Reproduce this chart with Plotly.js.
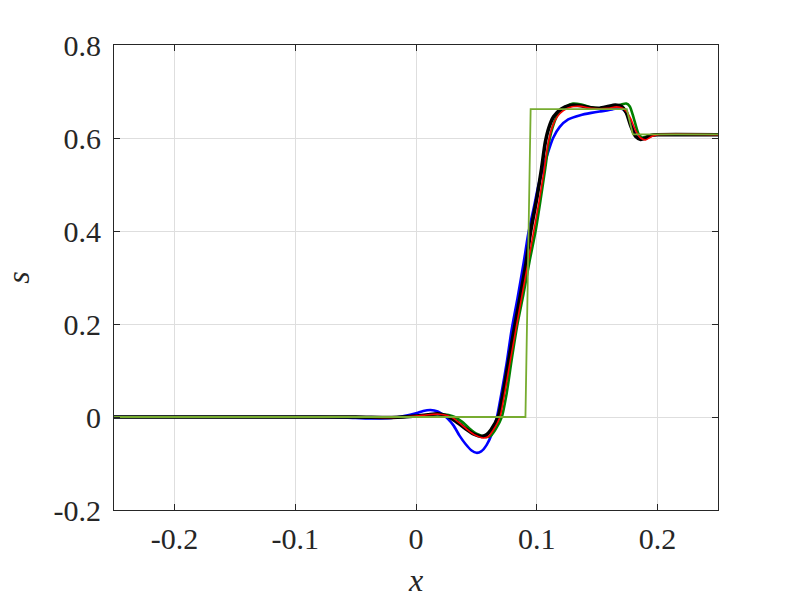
<!DOCTYPE html>
<html>
<head>
<meta charset="utf-8">
<script src="https://cdn.plot.ly/plotly-3.0.1.min.js"></script>
<style>
html,body{margin:0;padding:0;background:#fff;}
#chart{width:793px;height:609px;}
</style>
</head>
<body>
<div id="chart"></div>
<script>
// Exact step solution (light green)
const xExact = [-0.25, 0.0906, 0.0949, 0.1745, 0.1795, 0.25];
const sExact = [0, 0, 0.662, 0.662, 0.608, 0.608];

// Blue solution
const xBlue = [-0.25, -0.08, -0.05, -0.035, -0.02, -0.01, 0.0, 0.006, 0.012, 0.018, 0.022, 0.026, 0.031, 0.036, 0.041, 0.046, 0.050, 0.054, 0.0585, 0.063, 0.067, 0.071, 0.075, 0.079, 0.084, 0.089, 0.093, 0.0975, 0.1015, 0.107, 0.1135, 0.119, 0.126, 0.136, 0.145, 0.152, 0.158, 0.163, 0.168, 0.172, 0.175, 0.178, 0.182, 0.186, 0.190, 0.195, 0.20, 0.25];
const sBlue = [0, 0, -0.002, -0.003, -0.002, 0.002, 0.008, 0.013, 0.015, 0.012, 0.006, -0.003, -0.018, -0.040, -0.058, -0.072, -0.077, -0.074, -0.060, -0.035, 0.0, 0.055, 0.115, 0.185, 0.255, 0.33, 0.395, 0.45, 0.50, 0.55, 0.60, 0.624, 0.640, 0.649, 0.654, 0.657, 0.659, 0.662, 0.664, 0.661, 0.650, 0.630, 0.606, 0.598, 0.601, 0.606, 0.607, 0.607];

// Red solution
const xRed = [-0.25, -0.05, -0.02, 0.0, 0.01, 0.019, 0.026, 0.031, 0.037, 0.043, 0.049, 0.0557, 0.060, 0.064, 0.0695, 0.073, 0.078, 0.0835, 0.088, 0.093, 0.0975, 0.102, 0.106, 0.1095, 0.113, 0.117, 0.122, 0.129, 0.136, 0.145, 0.152, 0.159, 0.166, 0.171, 0.175, 0.178, 0.182, 0.186, 0.190, 0.195, 0.20, 0.25];
const sRed = [0, 0, -0.001, 0.002, 0.005, 0.006, 0.003, -0.003, -0.015, -0.028, -0.039, -0.045, -0.042, -0.028, 0.0, 0.045, 0.12, 0.20, 0.265, 0.335, 0.40, 0.465, 0.53, 0.59, 0.625, 0.646, 0.659, 0.667, 0.668, 0.664, 0.663, 0.664, 0.667, 0.664, 0.655, 0.640, 0.615, 0.600, 0.596, 0.603, 0.607, 0.607];

// Black solution
const xBlack = [-0.25, -0.05, -0.02, 0.0, 0.01, 0.018, 0.025, 0.030, 0.036, 0.042, 0.048, 0.054, 0.058, 0.062, 0.068, 0.072, 0.077, 0.082, 0.087, 0.091, 0.095, 0.100, 0.104, 0.107, 0.110, 0.114, 0.120, 0.127, 0.135, 0.145, 0.152, 0.158, 0.165, 0.170, 0.174, 0.178, 0.182, 0.186, 0.190, 0.195, 0.20, 0.25];
const sBlack = [0, 0, -0.001, 0.002, 0.005, 0.007, 0.003, -0.004, -0.015, -0.027, -0.037, -0.042, -0.039, -0.028, 0.0, 0.05, 0.125, 0.20, 0.27, 0.33, 0.40, 0.47, 0.535, 0.59, 0.622, 0.646, 0.662, 0.670, 0.670, 0.665, 0.664, 0.667, 0.671, 0.668, 0.655, 0.625, 0.603, 0.597, 0.600, 0.606, 0.607, 0.607];

// Dark green solution
const xGreen = [-0.25, -0.05, -0.02, 0.0, 0.01, 0.02, 0.027, 0.032, 0.038, 0.044, 0.050, 0.058, 0.062, 0.066, 0.071, 0.075, 0.079, 0.084, 0.089, 0.094, 0.099, 0.103, 0.107, 0.110, 0.114, 0.118, 0.124, 0.130, 0.137, 0.145, 0.151, 0.158, 0.165, 0.170, 0.174, 0.177, 0.180, 0.184, 0.187, 0.191, 0.195, 0.20, 0.25];
const sGreen = [0, 0, -0.001, 0.002, 0.005, 0.006, 0.004, 0.0, -0.01, -0.024, -0.036, -0.043, -0.040, -0.026, 0.0, 0.05, 0.12, 0.20, 0.265, 0.335, 0.40, 0.465, 0.535, 0.59, 0.63, 0.653, 0.667, 0.674, 0.672, 0.666, 0.664, 0.665, 0.668, 0.672, 0.674, 0.668, 0.645, 0.610, 0.601, 0.603, 0.606, 0.607, 0.607];

// Axis ticks
const xTickVals = [-0.2, -0.1, 0, 0.1, 0.2];
const xTickText = ['-0.2', '-0.1', '0', '0.1', '0.2'];
const yTickVals = [-0.2, 0, 0.2, 0.4, 0.6, 0.8];
const yTickText = ['-0.2', '0', '0.2', '0.4', '0.6', '0.8'];

const traces = [
  {x: xBlue, y: sBlue, mode: 'lines', line: {color: '#0000ff', width: 2.6, shape: 'spline', smoothing: 0.6}},
  {x: xGreen, y: sGreen, mode: 'lines', line: {color: '#008000', width: 2.6, shape: 'spline', smoothing: 0.6}},
  {x: xBlack, y: sBlack, mode: 'lines', line: {color: '#000000', width: 3.6, shape: 'spline', smoothing: 0.6}},
  {x: xRed, y: sRed, mode: 'lines', line: {color: '#ff0000', width: 1.6, shape: 'spline', smoothing: 0.6}},
  {x: xExact, y: sExact, mode: 'lines', line: {color: '#77ac30', width: 1.8}}
];

const serif = 'Liberation Serif';
const axisCommon = {
  showline: true, linecolor: '#262626', linewidth: 1, mirror: 'ticks',
  ticks: 'inside', ticklen: 6, tickwidth: 1, tickcolor: '#262626',
  showgrid: true, gridcolor: '#dedede', gridwidth: 1,
  zeroline: false, automargin: false
};

const layout = {
  width: 793, height: 609,
  margin: {l: 114, r: 75, t: 45, b: 99},
  paper_bgcolor: '#ffffff', plot_bgcolor: '#ffffff',
  font: {family: serif, size: 30, color: '#262626'},
  showlegend: false,
  xaxis: Object.assign({}, axisCommon, {
    range: [-0.25, 0.25], tickmode: 'array', tickvals: xTickVals, ticktext: xTickText,
    ticklabelstandoff: 2,
    title: {text: '<i>x</i>', font: {size: 32}, standoff: 14}
  }),
  yaxis: Object.assign({}, axisCommon, {
    range: [-0.2, 0.8], tickmode: 'array', tickvals: yTickVals, ticktext: yTickText,
    ticklabelstandoff: 6,
    title: {text: '<i>s</i>', font: {size: 32}, standoff: 14}
  })
};

Plotly.newPlot('chart', traces, layout, {displayModeBar: false, staticPlot: true});
</script>
</body>
</html>
